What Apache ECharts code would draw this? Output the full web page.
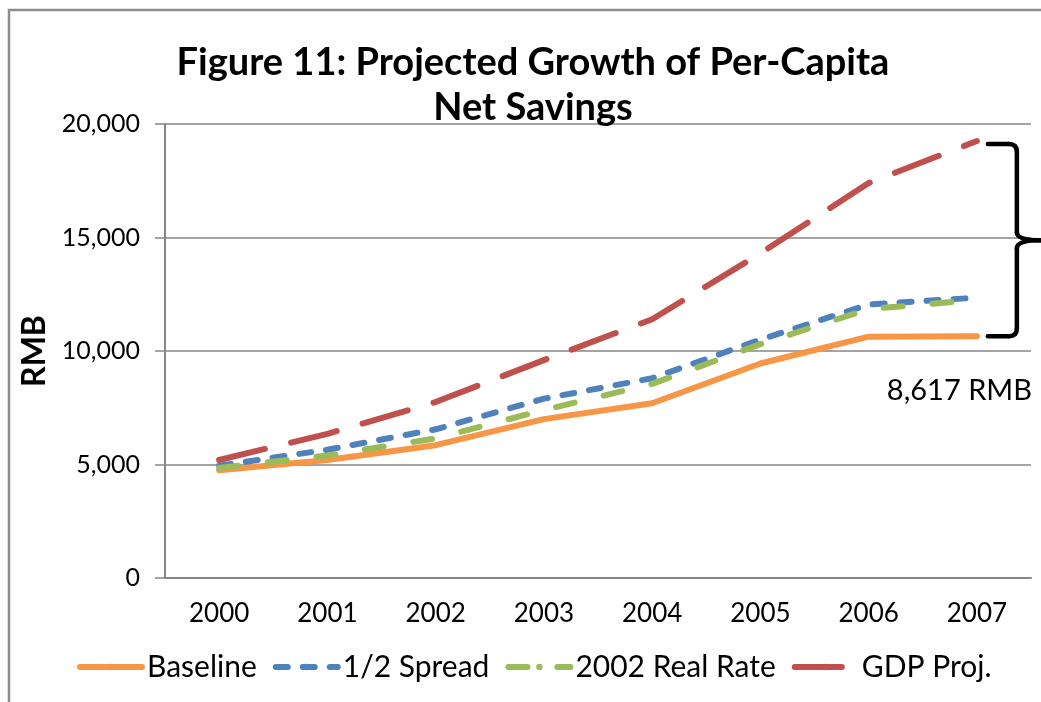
<!DOCTYPE html>
<html>
<head>
<meta charset="utf-8">
<script src="https://cdn.jsdelivr.net/npm/echarts@6/dist/echarts.min.js"></script>
<style>
	html, body { margin: 0; padding: 0; background: #fff; }
	#chart { width: 1041px; height: 702px; }
</style>
</head>
<body>
<div id="chart"></div>
<script>
// data
var years = ['2000', '2001', '2002', '2003', '2004', '2005', '2006', '2007'];
var baseline = [4750, 5200, 5850, 7000, 7700, 9450, 10630, 10650];
var halfSpread = [4950, 5650, 6550, 7900, 8800, 10500, 12050, 12350];
var realRate2002 = [4850, 5400, 6150, 7400, 8550, 10300, 11850, 12250];
var gdpProj = [5200, 6350, 7750, 9600, 11400, 14300, 17400, 19250];
var yTicks = [0, 5000, 10000, 15000, 20000];
var gapLabel = '8,617 RMB';

var font = 'Lato, "Liberation Sans", sans-serif';

var chart = echarts.init(document.getElementById('chart'));

function fmt(v) {
	return String(v).replace(/\B(?=(\d{3})+(?!\d))/g, ',');
}

function lineSeries(name, data, color, dash) {
	return {
		name: name,
		type: 'line',
		data: data,
		symbol: 'none',
		animation: false,
		lineStyle: {
			color: color,
			width: 6,
			type: dash,
			cap: 'round',
			join: 'round'
		},
		itemStyle: { color: color }
	};
}

var option = {
	backgroundColor: '#fff',
	animation: false,
	title: {
		text: 'Figure 11: Projected Growth of Per-Capita\nNet Savings',
		left: 528,
		top: 35,
		textAlign: 'center',
		textStyle: {
			fontFamily: font,
			fontWeight: 'bold',
			fontSize: 38,
			lineHeight: 45,
			color: '#000'
		}
	},
	legend: {
		left: 72,
		top: 647,
		itemWidth: 62,
		itemHeight: 8,
		itemGap: 16,
		textStyle: { fontFamily: font, fontSize: 30, color: '#000' },
		lineStyle: { width: 6 },
		data: ['Baseline', '1/2 Spread', '2002 Real Rate', 'GDP Proj.']
	},
	grid: {
		left: 165,
		right: 10,
		top: 124,
		bottom: 124,
		containLabel: false,
		outerBoundsMode: 'none'
	},
	xAxis: {
		type: 'category',
		data: years,
		boundaryGap: true,
		axisLine: { lineStyle: { color: '#868686', width: 2 } },
		axisTick: { length: 10, lineStyle: { color: '#868686', width: 2 } },
		axisLabel: { fontFamily: font, fontSize: 26, color: '#000', margin: 23 }
	},
	yAxis: {
		type: 'value',
		min: yTicks[0],
		max: yTicks[yTicks.length - 1],
		interval: yTicks[1] - yTicks[0],
		name: 'RMB',
		nameLocation: 'middle',
		nameRotate: 90,
		nameGap: 106,
		nameTextStyle: { fontFamily: font, fontWeight: 'bold', fontSize: 32, color: '#000' },
		axisLine: { show: true, lineStyle: { color: '#868686', width: 2 } },
		axisTick: { show: true, length: 10, lineStyle: { color: '#868686', width: 1.5 } },
		splitLine: { lineStyle: { color: '#868686', width: 1.5 } },
		axisLabel: {
			fontFamily: font,
			fontSize: 25,
			color: '#000',
			margin: 25,
			formatter: function (v) { return fmt(v); }
		}
	},
	series: [
		lineSeries('Baseline', baseline, '#F79646', 'solid'),
		lineSeries('1/2 Spread', halfSpread, '#4F81BD', [12, 15]),
		lineSeries('2002 Real Rate', realRate2002, '#9BBB59', [19, 30]),
		lineSeries('GDP Proj.', gdpProj, '#C0504D', [47, 27])
	]
};

chart.setOption(option);

// bracket between GDP Proj. and Baseline at the last year, plus the gap label
var last = years.length - 1;
var pTop = chart.convertToPixel({ gridIndex: 0 }, [last, gdpProj[last]]);
var pBot = chart.convertToPixel({ gridIndex: 0 }, [last, baseline[last]]);
var x0 = pTop[0] + 11;
var xv = pTop[0] + 40;
var xt = pTop[0] + 64;
var yT = pTop[1] + 3;
var yB = pBot[1];
var yM = (yT + yB) / 2;
var r = 8;
var braceStyle = { stroke: '#000', lineWidth: 4.5, fill: 'none', lineCap: 'round' };

function seg(x1, y1, x2, y2) {
	return { type: 'line', silent: true, shape: { x1: x1, y1: y1, x2: x2, y2: y2 }, style: braceStyle };
}
function curve(x1, y1, cx, cy, x2, y2) {
	return {
		type: 'bezierCurve', silent: true,
		shape: { x1: x1, y1: y1, cpx1: cx, cpy1: cy, x2: x2, y2: y2 },
		style: braceStyle
	};
}

var brace = [
	seg(x0, yT, xv - r, yT),
	curve(xv - r, yT, xv, yT, xv, yT + r),
	seg(xv, yT + r, xv, yM - r),
	curve(xv, yM - r, xv, yM, xt, yM),
	curve(xt, yM, xv, yM, xv, yM + r),
	seg(xv, yM + r, xv, yB - r),
	curve(xv, yB - r, xv, yB, xv - r, yB),
	seg(xv - r, yB, x0, yB)
];

chart.setOption({
	graphic: [
		{
			type: 'rect',
			silent: true,
			shape: { x: 9, y: 10, width: 1100, height: 800 },
			style: { fill: 'none', stroke: '#8c8c8c', lineWidth: 2.5 }
		},
		{
			type: 'text',
			silent: true,
			x: 1032,
			y: pBot[1] + 54,
			style: {
				text: gapLabel,
				fontFamily: font,
				fontSize: 29,
				fill: '#000',
				align: 'right',
				verticalAlign: 'middle'
			}
		}
	].concat(brace)
});
</script>
</body>
</html>
